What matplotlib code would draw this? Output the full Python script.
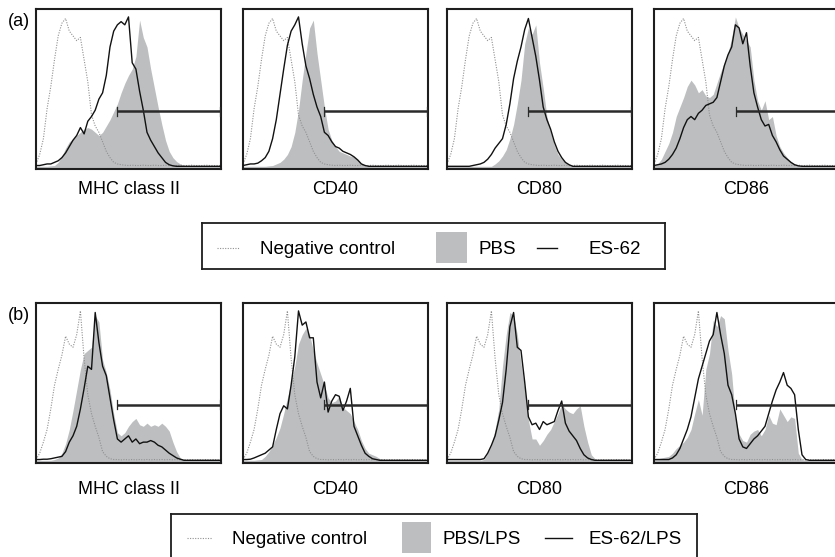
import numpy as np
import matplotlib
matplotlib.use("Agg")
import matplotlib.pyplot as plt
from matplotlib.patches import Rectangle

plt.rcParams['font.family'] = ['Liberation Sans', 'DejaVu Sans']

# fluorescence channel positions (fraction of the log axis), 51 bins
channels = np.linspace(0, 1, 51)

markers = ["MHC class II", "CD40", "CD80", "CD86"]
row_tags = ["(a)", "(b)"]

# negative control (isotype), same in every panel of a row
neg_a = [0.02, 0.08, 0.18, 0.37, 0.51, 0.68, 0.83, 0.91, 0.94, 0.86,
         0.83, 0.80, 0.82, 0.68, 0.54, 0.33, 0.26, 0.22, 0.16, 0.10,
         0.06, 0.03, 0.02, 0.015, 0.012, 0.01, 0.012, 0.01, 0.01, 0.012,
         0.01, 0.01, 0.012, 0.01, 0.01, 0.012, 0.01, 0.01, 0.01, 0.012,
         0.01, 0.01, 0.012, 0.01, 0.01, 0.01, 0.012, 0.01, 0.01, 0.01,
         0.01]
neg_b = [0.01, 0.05, 0.12, 0.20, 0.33, 0.48, 0.58, 0.67, 0.79, 0.74,
         0.72, 0.80, 0.95, 0.65, 0.42, 0.30, 0.22, 0.15, 0.06, 0.03,
         0.015, 0.01, 0.01, 0.008, 0.01, 0.008, 0.01, 0.008, 0.01, 0.008,
         0.01, 0.008, 0.01, 0.008, 0.01, 0.008, 0.01, 0.008, 0.01, 0.008,
         0.01, 0.008, 0.01, 0.008, 0.01, 0.008, 0.01, 0.008, 0.01, 0.008,
         0.008]

# (a) PBS (filled) and ES-62 (line)
pbs_mhc = [0.005, 0.005, 0.005, 0.005, 0.008, 0.01, 0.03, 0.07, 0.12, 0.16,
           0.18, 0.20, 0.22, 0.24, 0.25, 0.24, 0.22, 0.20, 0.22, 0.26,
           0.30, 0.35, 0.40, 0.47, 0.53, 0.58, 0.62, 0.70, 0.93, 0.82,
           0.76, 0.62, 0.50, 0.38, 0.27, 0.17, 0.10, 0.06, 0.035, 0.02,
           0.01, 0.008, 0.005, 0.005, 0.005, 0.005, 0.005, 0.005, 0.005, 0.005,
           0.005]
es_mhc = [0.01, 0.01, 0.015, 0.02, 0.02, 0.03, 0.04, 0.06, 0.09, 0.13,
          0.17, 0.20, 0.25, 0.21, 0.29, 0.32, 0.36, 0.43, 0.47, 0.58,
          0.76, 0.86, 0.90, 0.92, 0.90, 0.95, 0.66, 0.62, 0.48, 0.36,
          0.22, 0.17, 0.13, 0.09, 0.06, 0.03, 0.015, 0.008, 0.005, 0.005,
          0.005, 0.005, 0.005, 0.005, 0.005, 0.005, 0.005, 0.005, 0.005, 0.005,
          0.005]
pbs_cd40 = [0.005, 0.005, 0.005, 0.005, 0.005, 0.005, 0.005, 0.008, 0.01, 0.02,
            0.03, 0.05, 0.08, 0.13, 0.22, 0.36, 0.55, 0.72, 0.88, 0.93,
            0.72, 0.55, 0.38, 0.24, 0.17, 0.13, 0.10, 0.09, 0.08, 0.07,
            0.065, 0.05, 0.02, 0.01, 0.005, 0.005, 0.005, 0.005, 0.005, 0.005,
            0.005, 0.005, 0.005, 0.005, 0.005, 0.005, 0.005, 0.005, 0.005, 0.005,
            0.005]
es_cd40 = [0.01, 0.015, 0.02, 0.02, 0.025, 0.04, 0.06, 0.10, 0.18, 0.30,
           0.46, 0.62, 0.77, 0.86, 0.90, 0.95, 0.78, 0.64, 0.56, 0.46,
           0.38, 0.32, 0.22, 0.20, 0.16, 0.13, 0.12, 0.10, 0.09, 0.08,
           0.065, 0.045, 0.02, 0.01, 0.005, 0.005, 0.005, 0.005, 0.005, 0.005,
           0.005, 0.005, 0.005, 0.005, 0.005, 0.005, 0.005, 0.005, 0.005, 0.005,
           0.005]
pbs_cd80 = [0.005, 0.005, 0.005, 0.005, 0.005, 0.005, 0.005, 0.005, 0.005, 0.005,
            0.005, 0.005, 0.005, 0.02, 0.04, 0.07, 0.11, 0.18, 0.27, 0.40,
            0.55, 0.78, 0.88, 0.84, 0.90, 0.66, 0.50, 0.32, 0.22, 0.14,
            0.08, 0.05, 0.03, 0.015, 0.005, 0.005, 0.005, 0.005, 0.005, 0.005,
            0.005, 0.005, 0.005, 0.005, 0.005, 0.005, 0.005, 0.005, 0.005, 0.005,
            0.005]
es_cd80 = [0.005, 0.005, 0.005, 0.005, 0.005, 0.005, 0.005, 0.01, 0.015, 0.02,
           0.03, 0.05, 0.08, 0.12, 0.15, 0.18, 0.27, 0.40, 0.56, 0.67,
           0.76, 0.87, 0.94, 0.82, 0.70, 0.55, 0.38, 0.30, 0.24, 0.16,
           0.10, 0.06, 0.03, 0.015, 0.005, 0.005, 0.005, 0.005, 0.005, 0.005,
           0.005, 0.005, 0.005, 0.005, 0.005, 0.005, 0.005, 0.005, 0.005, 0.005,
           0.005]
pbs_cd86 = [0.01, 0.02, 0.05, 0.10, 0.15, 0.22, 0.32, 0.38, 0.44, 0.51,
            0.55, 0.52, 0.47, 0.49, 0.45, 0.44, 0.46, 0.53, 0.60, 0.66,
            0.72, 0.82, 0.95, 0.88, 0.84, 0.80, 0.76, 0.55, 0.42, 0.36,
            0.42, 0.30, 0.32, 0.20, 0.13, 0.09, 0.06, 0.035, 0.02, 0.01,
            0.005, 0.005, 0.005, 0.005, 0.005, 0.005, 0.005, 0.005, 0.005, 0.005,
            0.005]
es_cd86 = [0.01, 0.015, 0.02, 0.03, 0.05, 0.08, 0.12, 0.18, 0.25, 0.30,
           0.32, 0.30, 0.34, 0.36, 0.39, 0.40, 0.41, 0.44, 0.54, 0.64,
           0.71, 0.76, 0.90, 0.88, 0.78, 0.85, 0.64, 0.47, 0.38, 0.30,
           0.26, 0.27, 0.20, 0.16, 0.11, 0.07, 0.05, 0.03, 0.015, 0.008,
           0.005, 0.005, 0.005, 0.005, 0.005, 0.005, 0.005, 0.005, 0.005, 0.005,
           0.005]

# (b) PBS/LPS (filled) and ES-62/LPS (line)
pbs_lps_mhc = [0.005, 0.005, 0.005, 0.005, 0.005, 0.01, 0.02, 0.05, 0.11, 0.20,
               0.32, 0.45, 0.58, 0.68, 0.70, 0.72, 0.92, 0.88, 0.64, 0.56,
               0.45, 0.30, 0.18, 0.16, 0.18, 0.22, 0.25, 0.27, 0.23, 0.22,
               0.24, 0.22, 0.23, 0.22, 0.24, 0.22, 0.19, 0.12, 0.06, 0.02,
               0.01, 0.005, 0.005, 0.005, 0.005, 0.005, 0.005, 0.005, 0.005, 0.005,
               0.005]
es_lps_mhc = [0.01, 0.01, 0.012, 0.012, 0.015, 0.02, 0.025, 0.03, 0.06, 0.12,
              0.16, 0.22, 0.33, 0.46, 0.60, 0.58, 0.94, 0.75, 0.60, 0.54,
              0.40, 0.26, 0.14, 0.12, 0.14, 0.16, 0.12, 0.14, 0.11, 0.12,
              0.12, 0.13, 0.12, 0.10, 0.09, 0.07, 0.05, 0.035, 0.02, 0.012,
              0.005, 0.005, 0.005, 0.005, 0.005, 0.005, 0.005, 0.005, 0.005, 0.005,
              0.005]
pbs_lps_cd40 = [0.005, 0.005, 0.005, 0.005, 0.008, 0.01, 0.03, 0.06, 0.10, 0.15,
                0.21, 0.30, 0.40, 0.50, 0.60, 0.74, 0.80, 0.84, 0.80, 0.70,
                0.62, 0.55, 0.48, 0.40, 0.37, 0.38, 0.41, 0.34, 0.32, 0.30,
                0.25, 0.20, 0.13, 0.08, 0.05, 0.04, 0.03, 0.015, 0.008, 0.005,
                0.005, 0.005, 0.005, 0.005, 0.005, 0.005, 0.005, 0.005, 0.005, 0.005,
                0.005]
es_lps_cd40 = [0.01, 0.01, 0.012, 0.02, 0.03, 0.04, 0.05, 0.07, 0.09, 0.20,
               0.30, 0.35, 0.33, 0.48, 0.66, 0.95, 0.86, 0.88, 0.78, 0.78,
               0.50, 0.40, 0.50, 0.31, 0.38, 0.42, 0.41, 0.32, 0.38, 0.46,
               0.22, 0.16, 0.10, 0.05, 0.03, 0.015, 0.01, 0.005, 0.005, 0.005,
               0.005, 0.005, 0.005, 0.005, 0.005, 0.005, 0.005, 0.005, 0.005, 0.005,
               0.005]
pbs_lps_cd80 = [0.005, 0.005, 0.005, 0.005, 0.005, 0.005, 0.005, 0.005, 0.005, 0.005,
                0.01, 0.05, 0.10, 0.20, 0.33, 0.60, 0.80, 0.94, 0.92, 0.80,
                0.62, 0.46, 0.26, 0.14, 0.14, 0.10, 0.13, 0.17, 0.20, 0.25,
                0.30, 0.36, 0.33, 0.31, 0.30, 0.33, 0.35, 0.22, 0.12, 0.04,
                0.015, 0.005, 0.005, 0.005, 0.005, 0.005, 0.005, 0.005, 0.005, 0.005,
                0.005]
es_lps_cd80 = [0.01, 0.01, 0.01, 0.01, 0.01, 0.01, 0.01, 0.01, 0.01, 0.01,
               0.015, 0.05, 0.10, 0.16, 0.26, 0.37, 0.58, 0.85, 0.94, 0.72,
               0.70, 0.50, 0.28, 0.23, 0.24, 0.20, 0.25, 0.23, 0.24, 0.25,
               0.32, 0.38, 0.24, 0.19, 0.16, 0.13, 0.08, 0.04, 0.02, 0.01,
               0.005, 0.005, 0.005, 0.005, 0.005, 0.005, 0.005, 0.005, 0.005, 0.005,
               0.005]
pbs_lps_cd86 = [0.01, 0.015, 0.02, 0.025, 0.03, 0.05, 0.08, 0.10, 0.12, 0.15,
                0.20, 0.30, 0.39, 0.29, 0.58, 0.68, 0.89, 0.85, 0.92, 0.90,
                0.70, 0.55, 0.27, 0.17, 0.13, 0.12, 0.17, 0.19, 0.20, 0.16,
                0.20, 0.29, 0.24, 0.23, 0.33, 0.29, 0.25, 0.28, 0.27, 0.05,
                0.01, 0.005, 0.005, 0.005, 0.005, 0.005, 0.005, 0.005, 0.005, 0.005,
                0.005]
es_lps_cd86 = [0.01, 0.01, 0.01, 0.01, 0.01, 0.02, 0.04, 0.08, 0.14, 0.20,
               0.28, 0.40, 0.52, 0.60, 0.68, 0.76, 0.80, 0.94, 0.80, 0.68,
               0.48, 0.42, 0.30, 0.14, 0.09, 0.08, 0.11, 0.14, 0.16, 0.19,
               0.22, 0.30, 0.38, 0.45, 0.50, 0.56, 0.48, 0.46, 0.42, 0.20,
               0.04, 0.01, 0.005, 0.005, 0.005, 0.005, 0.005, 0.005, 0.005, 0.005,
               0.005]

# positive gate markers: start channel and height
gate_start = [0.44, 0.44, 0.44, 0.445]
gate_level = [0.354, 0.356]

rows = [
    (neg_a, [pbs_mhc, pbs_cd40, pbs_cd80, pbs_cd86],
     [es_mhc, es_cd40, es_cd80, es_cd86]),
    (neg_b, [pbs_lps_mhc, pbs_lps_cd40, pbs_lps_cd80, pbs_lps_cd86],
     [es_lps_mhc, es_lps_cd40, es_lps_cd80, es_lps_cd86]),
]
legend_names = [("Negative control", "PBS", "ES-62"),
                ("Negative control", "PBS/LPS", "ES-62/LPS")]

W, H = 835, 557
fig = plt.figure(figsize=(W / 100, H / 100), dpi=100)

FILL = '#bcbec0'
DOT = '#909090'
FRAME = '#1e1e1e'
LINE = '#111111'


def px_axes(left, top, w, h):
    return fig.add_axes([left / W, 1 - (top + h) / H, w / W, h / H])


lefts = [36, 243, 447, 654]
panel_w, panel_h = 185, 160
row_tops = [9, 303]
label_y = [190, 490]
tag_y = [21, 316]

for r, (neg, fills, lines) in enumerate(rows):
    for c in range(4):
        ax = px_axes(lefts[c], row_tops[r], panel_w, panel_h)
        ax.fill_between(channels, -0.05, fills[c], color=FILL, lw=0, zorder=1)
        ax.plot(channels, neg, color=DOT, lw=0.8, ls=(0, (1, 1.3)), zorder=2)
        ax.plot(channels, lines[c], color=LINE, lw=1.0, zorder=3)
        g = gate_start[c]
        gy = gate_level[r]
        ax.plot([g, 1.0], [gy, gy], color='#2a2a2a', lw=1.8, zorder=4,
                solid_capstyle='butt')
        for gx in (g, 0.997):
            ax.plot([gx, gx], [gy - 0.028, gy + 0.028], color='#2a2a2a',
                    lw=0.9, zorder=4)
        ax.set_xlim(0, 1)
        ax.set_ylim(-0.012, 1.0)
        ax.set_xticks([])
        ax.set_yticks([])
        for sp in ax.spines.values():
            sp.set_linewidth(1.5)
            sp.set_color(FRAME)
        fig.text((lefts[c] + panel_w / 2) / W, 1 - label_y[r] / H, markers[c],
                 ha='center', va='center', fontsize=13)
    fig.text(8 / W, 1 - tag_y[r] / H, row_tags[r], ha='left', va='center',
             fontsize=13)

# legends drawn in pixel coordinates
legend_boxes = [(202, 223, 665, 269), (171, 514, 697, 561)]
legend_items = [
    dict(dot=(217, 240), ty=249, t1=260, sq=(436, 467, 232, 263), t2=479,
         ln=(537, 557), t3=588),
    dict(dot=(187, 212), ty=539, t1=232, sq=(402, 431, 522, 553), t2=442,
         ln=(545, 572), t3=588),
]
for r in range(2):
    x0, y0, x1, y1 = legend_boxes[r]
    lax = px_axes(x0, y0, x1 - x0, y1 - y0)
    lax.set_xlim(x0, x1)
    lax.set_ylim(y1, y0)
    lax.set_xticks([])
    lax.set_yticks([])
    for sp in lax.spines.values():
        sp.set_linewidth(1.3)
        sp.set_color(FRAME)
    it = legend_items[r]
    n1, n2, n3 = legend_names[r]
    lax.plot(it['dot'], [it['ty'] - 1, it['ty'] - 1], color=DOT, lw=0.8,
             ls=(0, (1, 1.3)))
    lax.text(it['t1'], it['ty'], n1, ha='left', va='center', fontsize=13.5)
    sx0, sx1, sy0, sy1 = it['sq']
    lax.add_patch(Rectangle((sx0, sy0), sx1 - sx0, sy1 - sy0, color=FILL, lw=0))
    lax.text(it['t2'], it['ty'], n2, ha='left', va='center', fontsize=13.5)
    lax.plot(it['ln'], [it['ty'] - 1, it['ty'] - 1], color=LINE, lw=1.0)
    lax.text(it['t3'], it['ty'], n3, ha='left', va='center', fontsize=13.5)

fig.savefig("out.png", dpi=100)
